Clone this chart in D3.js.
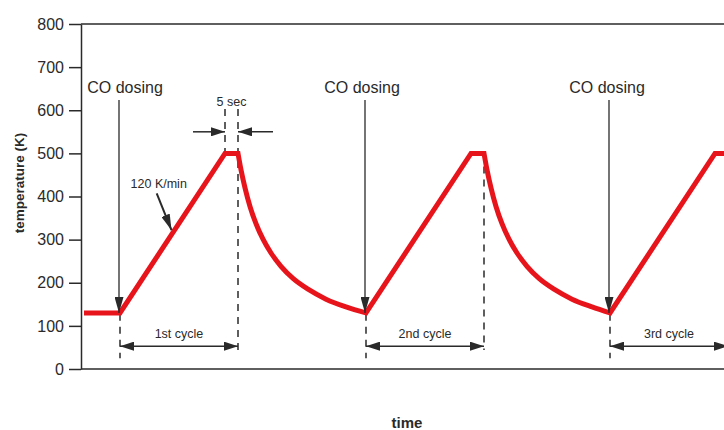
<!DOCTYPE html>
<html>
<head>
<meta charset="utf-8">
<script src="https://cdn.jsdelivr.net/npm/d3@7"></script>
<style>
  html, body { margin: 0; padding: 0; background: #fff; }
  svg { display: block; font-family: "Liberation Sans", Arial, sans-serif; }
</style>
</head>
<body>
<svg id="chart" width="724" height="430"></svg>
<script>
// Temperature programme: hold, linear heating ramps, 5 s holds and cooling curves
const tempTicks = [0, 100, 200, 300, 400, 500, 600, 700, 800];

// straight pieces of the profile (time in arbitrary units, temperature in K)
const ramp1Time = [3, 39, 144, 157];
const ramp1Temp = [130, 130, 500, 500];
const ramp2Time = [285, 390, 403];
const ramp2Temp = [130, 500, 500];
const ramp3Time = [529, 634, 647];
const ramp3Temp = [130, 500, 500];

// cooling after each hold
const cool1Time = [157, 160, 164, 169, 175, 182, 190, 200, 212, 227, 245, 265, 285];
const cool1Temp = [500, 462, 420, 377, 337, 301, 269, 238, 210, 185, 162, 144, 130];
const cool2Time = [403, 406, 410, 415, 421, 428, 436, 446, 458, 473, 491, 511, 529];
const cool2Temp = [500, 462, 420, 377, 337, 301, 269, 238, 210, 185, 162, 144, 130];

// CO dosing events and cycles
const dosingTime = [39, 285, 529];
const dosingLabels = ["CO dosing", "CO dosing", "CO dosing"];
const cycleStart = [39, 285, 529];
const cycleEnd = [157, 403, 647];
const cycleLabels = ["1st cycle", "2nd cycle", "3rd cycle"];
const holdStart = 144, holdEnd = 157;
const rateLabel = "120 K/min";
const holdLabel = "5 sec";

const svg = d3.select("#chart");
const ink = "#2a2a2a";
const red = "#e8141c";

const x = d3.scaleLinear().domain([0, 643]).range([81, 724]);
const y = d3.scaleLinear().domain([0, 800]).range([369, 24]);

// arrowhead markers
const defs = svg.append("defs");
function marker(id, len, half) {
  defs.append("marker")
    .attr("id", id)
    .attr("markerUnits", "userSpaceOnUse")
    .attr("viewBox", `0 ${-half} ${len} ${2 * half}`)
    .attr("refX", len).attr("refY", 0)
    .attr("markerWidth", len).attr("markerHeight", 2 * half)
    .attr("orient", "auto-start-reverse")
    .append("path")
    .attr("d", `M0,${-half}L${len},0L0,${half}Z`)
    .attr("fill", ink);
}
marker("headL", 16, 4.5);
marker("headS", 14, 4.5);

// frame: top line and bottom baseline
svg.append("line")
  .attr("x1", x(0)).attr("x2", 724)
  .attr("y1", y(800)).attr("y2", y(800))
  .attr("stroke", ink).attr("stroke-width", 1.5);
svg.append("line")
  .attr("x1", x(0)).attr("x2", 724)
  .attr("y1", y(0)).attr("y2", y(0))
  .attr("stroke", ink).attr("stroke-width", 1.5);

// y axis
const yAxis = d3.axisLeft(y).tickValues(tempTicks).tickSize(12).tickSizeOuter(0).tickPadding(5);
const gy = svg.append("g").attr("transform", `translate(${x(0)},0)`).call(yAxis);
gy.select(".domain").attr("stroke", ink).attr("stroke-width", 1.5);
gy.selectAll(".tick line").attr("stroke", ink).attr("stroke-width", 1.5);
gy.selectAll(".tick text")
  .attr("fill", ink)
  .style("font-size", "16px")
  .style("font-family", "'Liberation Sans', Arial, sans-serif");

svg.append("text")
  .attr("transform", `translate(19,183) rotate(-90)`)
  .attr("text-anchor", "middle")
  .attr("dy", "0.35em")
  .style("font-size", "13.5px").style("font-weight", "bold")
  .attr("fill", ink)
  .text("temperature (K)");

svg.append("text")
  .attr("x", 407).attr("y", 423)
  .attr("text-anchor", "middle")
  .attr("dy", "0.35em")
  .style("font-size", "15px").style("font-weight", "bold")
  .attr("fill", ink)
  .text("time");

// dashed guide lines
const dashed = svg.append("g")
  .attr("stroke", ink).attr("stroke-width", 1.5)
  .attr("stroke-dasharray", "7,6");
cycleStart.forEach(t => {
  dashed.append("line").attr("x1", x(t)).attr("x2", x(t))
    .attr("y1", y(128)).attr("y2", y(25));
});
cycleEnd.forEach((t, i) => {
  dashed.append("line").attr("x1", x(t)).attr("x2", x(t))
    .attr("y1", i === 0 ? y(603) : y(500)).attr("y2", y(44));
});
dashed.append("line").attr("x1", x(holdStart)).attr("x2", x(holdStart))
  .attr("y1", y(603)).attr("y2", y(500));

// temperature profile: straight ramps joined to smooth cooling curves
const lin = d3.line().x(d => x(d[0])).y(d => y(d[1])).curve(d3.curveLinear);
const smooth = d3.line().x(d => x(d[0])).y(d => y(d[1])).curve(d3.curveMonotoneX);
const zip = (a, b) => a.map((v, i) => [v, b[i]]);
const pieces = [
  lin(zip(ramp1Time, ramp1Temp)),
  smooth(zip(cool1Time, cool1Temp)),
  lin(zip(ramp2Time, ramp2Temp)),
  smooth(zip(cool2Time, cool2Temp)),
  lin(zip(ramp3Time, ramp3Temp))
];
const profilePath = pieces.map((p, i) => i === 0 ? p : "L" + p.slice(1)).join("");
svg.append("path")
  .attr("d", profilePath)
  .attr("fill", "none")
  .attr("stroke", red)
  .attr("stroke-width", 5)
  .attr("stroke-linejoin", "miter");

// CO dosing arrows (labels nudged a few pixels off the arrow shaft)
const dosingLabelNudge = [5, -4, -3];
dosingTime.forEach((t, i) => {
  svg.append("line")
    .attr("x1", x(t) - 1).attr("x2", x(t) - 1)
    .attr("y1", y(624)).attr("y2", y(130))
    .attr("stroke", ink).attr("stroke-width", 1.3)
    .attr("marker-end", "url(#headL)");
  svg.append("text")
    .attr("x", x(t) + dosingLabelNudge[i]).attr("y", y(654))
    .attr("text-anchor", "middle").attr("dy", "0.35em")
    .style("font-size", "16px").attr("fill", ink)
    .text(dosingLabels[i]);
});

// cycle arrows
cycleStart.forEach((t, i) => {
  svg.append("line")
    .attr("x1", x(t)).attr("x2", x(cycleEnd[i]))
    .attr("y1", y(53)).attr("y2", y(53))
    .attr("stroke", ink).attr("stroke-width", 1.5)
    .attr("marker-start", "url(#headS)")
    .attr("marker-end", "url(#headS)");
  svg.append("text")
    .attr("x", x((t + cycleEnd[i]) / 2)).attr("y", y(83))
    .attr("text-anchor", "middle").attr("dy", "0.35em")
    .style("font-size", "12.5px").attr("fill", ink)
    .text(cycleLabels[i]);
});

// 5 sec hold annotation
svg.append("line")
  .attr("x1", x(holdStart) - 32).attr("x2", x(holdStart))
  .attr("y1", y(550)).attr("y2", y(550))
  .attr("stroke", ink).attr("stroke-width", 1.5)
  .attr("marker-end", "url(#headS)");
svg.append("line")
  .attr("x1", x(holdEnd) + 35).attr("x2", x(holdEnd))
  .attr("y1", y(550)).attr("y2", y(550))
  .attr("stroke", ink).attr("stroke-width", 1.5)
  .attr("marker-end", "url(#headS)");
svg.append("text")
  .attr("x", x((holdStart + holdEnd) / 2)).attr("y", y(621))
  .attr("text-anchor", "middle").attr("dy", "0.35em")
  .style("font-size", "12.5px").attr("fill", ink)
  .text(holdLabel);

// heating rate annotation
svg.append("line")
  .attr("x1", x(75.7)).attr("y1", y(407))
  .attr("x2", x(90.5)).attr("y2", y(322))
  .attr("stroke", ink).attr("stroke-width", 2)
  .attr("marker-end", "url(#headL)");
svg.append("text")
  .attr("x", x(77.7)).attr("y", y(431))
  .attr("text-anchor", "middle").attr("dy", "0.35em")
  .style("font-size", "12.5px").attr("fill", ink)
  .text(rateLabel);
</script>
</body>
</html>
